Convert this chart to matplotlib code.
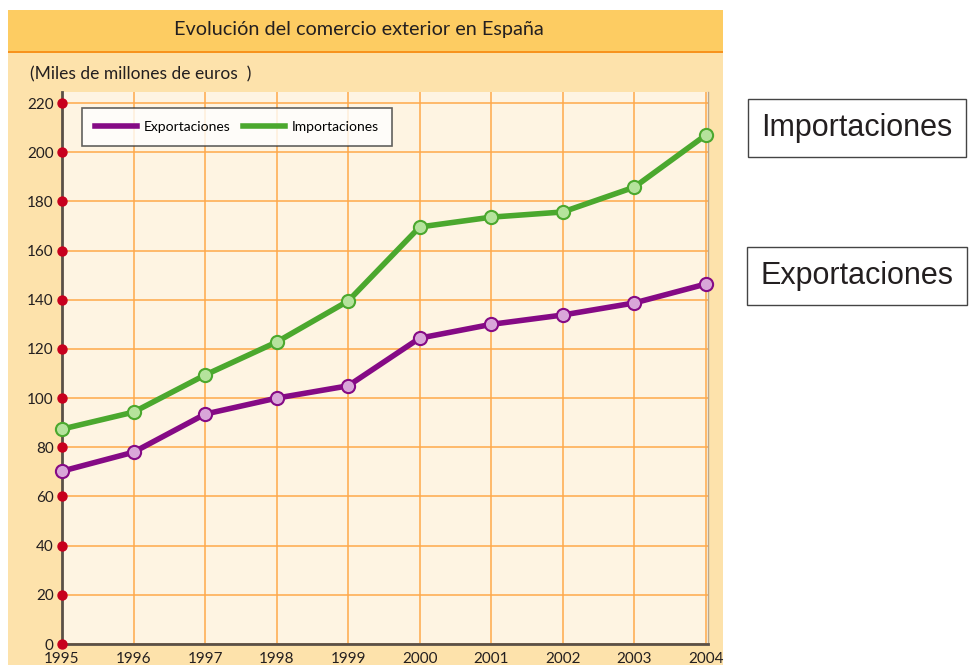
import matplotlib
matplotlib.use("Agg")
import matplotlib.pyplot as plt
from matplotlib.patches import Rectangle
from matplotlib.lines import Line2D

plt.rcParams['font.family'] = ['Lato', 'DejaVu Sans']

years = [1995, 1996, 1997, 1998, 1999, 2000, 2001, 2002, 2003, 2004]
exportaciones = [70.3, 78, 93.5, 100, 105, 124.4, 130, 133.8, 138.7, 146.4]
importaciones = [87.4, 94.3, 109.4, 122.8, 139.5, 169.6, 173.6, 175.7, 185.8, 207]
yticks = list(range(0, 221, 20))

purple = '#850a85'
purple_light = '#d9a6d9'
green = '#4ba82e'
green_light = '#b5e39c'
grid_orange = '#ffa94a'

W, H = 974, 665
fig = plt.figure(figsize=(W / 100, H / 100), dpi=100)
fig.patch.set_facecolor('white')


def fx(px):
    return px / W


def fy(py):
    return 1 - py / H


# panel background, header band and header rule
fig.patches.append(Rectangle((fx(8), 0), fx(723) - fx(8), fy(10), transform=fig.transFigure,
                             facecolor='#fde2ab', edgecolor='none', zorder=0))
fig.patches.append(Rectangle((fx(8), fy(51)), fx(723) - fx(8), fy(10) - fy(51), transform=fig.transFigure,
                             facecolor='#fdcc62', edgecolor='none', zorder=0))
fig.patches.append(Rectangle((fx(8), fy(53)), fx(723) - fx(8), fy(51) - fy(53), transform=fig.transFigure,
                             facecolor='#f7931e', edgecolor='none', zorder=0))

fig.text(fx(359), fy(30), 'Evolución del comercio exterior en España', ha='center', va='center',
         fontsize=14.3, color='#231f20')
fig.text(fx(30), fy(74), '(Miles de millones de euros  )', ha='left', va='center',
         fontsize=12.5, color='#231f20')

ax = fig.add_axes([fx(62), fy(644), fx(708) - fx(62), fy(92) - fy(644)])
ax.set_zorder(2)
ax.set_facecolor('#fef4e2')
ax.set_xlim(1995, 2004.03)
ax.set_ylim(0, 224.5)

ax.set_xticks(years)
ax.set_yticks(yticks)
ax.grid(True, color=grid_orange, linewidth=1.1, zorder=1)
ax.set_axisbelow(True)
ax.tick_params(length=0, labelsize=11, colors='#231f20')
ax.tick_params(axis='y', pad=6)
ax.tick_params(axis='x', pad=6)

ax.spines['top'].set_visible(False)
ax.spines['left'].set_color('#5a5047')
ax.spines['left'].set_linewidth(2)
ax.spines['bottom'].set_color('#5a5047')
ax.spines['bottom'].set_linewidth(2)
ax.spines['right'].set_color('#b8a890')
ax.spines['right'].set_linewidth(1)

ax.plot(years, importaciones, color=green, linewidth=4, marker='o', markersize=9.5,
        markerfacecolor=green_light, markeredgecolor=green, markeredgewidth=1.5,
        zorder=4, clip_on=False)
ax.plot(years, exportaciones, color=purple, linewidth=4, marker='o', markersize=9.5,
        markerfacecolor=purple_light, markeredgecolor=purple, markeredgewidth=1.5,
        zorder=4, clip_on=False)

# red dots marking each y tick on the axis
ax.scatter([1995] * len(yticks), yticks, s=42, color='#c8001e', zorder=5, clip_on=False)

handles = [Line2D([], [], color=purple, linewidth=4),
           Line2D([], [], color=green, linewidth=4)]
leg = ax.legend(handles, ['Exportaciones', 'Importaciones'], ncol=2, loc='upper left',
                bbox_to_anchor=(20 / 646, (644 - 108) / 552),
                fontsize=10, frameon=True, fancybox=False, handlelength=3.0,
                columnspacing=0.9, borderpad=0.95, handletextpad=0.5, borderaxespad=0)
leg.get_frame().set_edgecolor('#3a3a3a')
leg.get_frame().set_linewidth(1.2)
leg.get_frame().set_facecolor('white')

# boxed labels on the right
for label, y in [('Importaciones', 128), ('Exportaciones', 276)]:
    fig.text(fx(857), fy(y), label, ha='center', va='center', fontsize=22,
             family=['Liberation Sans', 'DejaVu Sans'], color='#231f20',
             bbox=dict(boxstyle='square,pad=0.45', facecolor='white', edgecolor='#444444', linewidth=1))

fig.savefig('out.png', dpi=100)
